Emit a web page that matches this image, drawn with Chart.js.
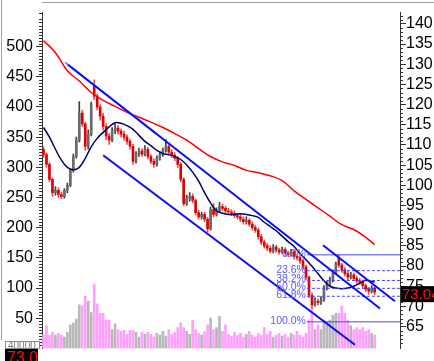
<!DOCTYPE html>
<html>
<head>
<meta charset="utf-8">
<script src="https://cdn.jsdelivr.net/npm/chart.js@4/dist/chart.umd.min.js"></script>
<style>
  html, body { margin: 0; padding: 0; background: #fff; }
  canvas { display: block; }
</style>
</head>
<body>
<canvas id="chart" width="434" height="361"></canvas>
<script>
// daily candles, price
const opens = [
  330, 321, 305, 280, 258, 262, 255, 252, 262, 270,
  295, 318, 345, 390, 372, 335, 355, 435, 418, 400,
  385, 368, 352, 345, 360, 365, 360, 355, 350, 343,
  335, 310, 322, 327, 322, 330, 318, 310, 305, 315,
  322, 328, 335, 325, 320, 315, 305, 280, 240, 248,
  252, 245, 225, 218, 222, 214, 198, 230, 222, 228,
  235, 232, 228, 226, 224, 220, 218, 214, 210, 212,
  206, 200, 196, 185, 176, 170, 166, 161, 168, 163,
  160, 164, 158, 156, 160, 152, 150, 145, 135, 118,
  88, 72, 78, 76, 80, 100, 106, 112, 125, 150,
  138, 130, 124, 118, 122, 116, 112, 110, 104, 98,
  95, 100
];
const closes = [
  321, 305, 280, 258, 262, 255, 252, 262, 270, 295,
  318, 345, 390, 372, 335, 355, 405, 418, 400, 385,
  368, 352, 345, 360, 365, 360, 355, 350, 343, 335,
  310, 322, 327, 322, 330, 318, 310, 305, 315, 322,
  328, 335, 325, 320, 315, 305, 280, 240, 248, 252,
  245, 225, 218, 222, 214, 198, 230, 222, 228, 235,
  232, 228, 226, 224, 220, 218, 214, 210, 212, 206,
  200, 196, 185, 176, 170, 166, 161, 168, 163, 160,
  164, 158, 156, 160, 152, 150, 145, 135, 118, 88,
  72, 78, 76, 80, 100, 106, 112, 125, 140, 138,
  130, 124, 118, 122, 116, 112, 110, 104, 98, 95,
  100, 93
];
const highs = [
  334, 324, 308, 283, 268, 266, 259, 265, 274, 298,
  322, 350, 409, 395, 375, 362, 408, 445, 422, 404,
  390, 372, 356, 366, 372, 369, 364, 360, 354, 347,
  338, 326, 332, 331, 336, 333, 321, 314, 319, 326,
  332, 346, 338, 329, 324, 318, 308, 283, 254, 258,
  256, 248, 229, 226, 226, 217, 234, 240, 233, 242,
  239, 236, 232, 230, 228, 224, 222, 218, 218, 215,
  210, 204, 199, 189, 180, 174, 170, 172, 171, 166,
  168, 167, 161, 164, 162, 156, 153, 148, 138, 120,
  92, 84, 82, 86, 104, 112, 118, 130, 143, 155,
  141, 134, 128, 126, 125, 120, 116, 113, 107, 101,
  104, 103
];
const lows = [
  316, 300, 276, 252, 254, 250, 248, 249, 258, 268,
  292, 315, 342, 368, 328, 330, 352, 412, 395, 378,
  362, 346, 338, 342, 356, 355, 350, 345, 338, 330,
  305, 307, 318, 318, 319, 314, 306, 300, 302, 312,
  318, 325, 321, 316, 311, 300, 276, 236, 237, 244,
  241, 221, 214, 214, 210, 193, 196, 218, 219, 225,
  228, 224, 222, 220, 216, 214, 210, 206, 206, 202,
  196, 192, 181, 172, 166, 162, 158, 158, 159, 156,
  157, 154, 152, 153, 148, 146, 141, 131, 114, 84,
  66, 70, 72, 73, 78, 97, 103, 110, 122, 134,
  126, 120, 114, 115, 112, 108, 106, 100, 94, 90,
  92, 89
];
const volumes = [
  140, 240, 140, 170, 140, 160, 140, 120, 170, 250,
  270, 310, 460, 450, 550, 500, 380, 680, 470, 370,
  370, 300, 300, 200, 260, 200, 180, 190, 150, 190,
  190, 170, 120, 170, 150, 170, 150, 120, 160, 140,
  180, 130, 200, 150, 170, 220, 270, 220, 180, 150,
  300, 200, 160, 140, 180, 250, 320, 200, 220, 340,
  180, 250, 150, 130, 170, 140, 160, 120, 150, 180,
  140, 120, 160, 140, 220, 150, 180, 120, 140, 160,
  130, 150, 120, 160, 140, 180, 140, 120, 160, 300,
  420, 200, 250, 200, 300, 280, 300, 350, 370, 370,
  450, 370, 300, 240, 200, 220, 200, 220, 180, 200,
  160, 140
];

// moving averages as [bar index, value]
const maLong = [
  [0, 510], [4, 490], [8, 460], [12, 443], [16, 424], [20, 411], [24, 401],
  [28, 391], [32, 383], [36, 375], [40, 366], [44, 356], [48, 345], [52, 331],
  [56, 318], [60, 309], [64, 303], [68, 295], [72, 291], [76, 286], [80, 278],
  [84, 261], [88, 247], [92, 233], [96, 219], [100, 205], [104, 197], [108, 184],
  [111, 172]
];
const maShort = [
  [0, 366], [2, 350], [4, 330], [6, 312], [8, 300], [10, 296], [12, 300],
  [14, 315], [16, 334], [18, 348], [20, 358], [22, 367], [24, 374], [26, 373],
  [28, 369], [30, 363], [32, 353], [34, 343], [36, 336], [38, 328], [40, 323],
  [42, 321], [44, 318], [46, 313], [48, 304], [50, 292], [52, 277], [54, 258],
  [56, 241], [58, 228], [60, 224], [62, 222], [64, 222], [66, 223], [68, 222],
  [70, 220], [72, 217], [74, 209], [76, 202], [78, 195], [80, 186], [82, 177],
  [84, 169], [86, 157], [88, 147], [90, 136], [92, 124], [94, 112], [96, 103],
  [98, 100], [100, 99], [102, 100], [104, 103], [106, 108], [108, 113],
  [110, 111], [111, 110]
];

// drawn trend lines: [x1, y1, x2, y2] in bar index / price
const trendLines = [
  [8.2, 470, 112.8, 66],
  [20, 320, 104.4, 6],
  [93.7, 171, 117.8, 78]
];
const trendShadow = [7.2, 474, 38, 355];

const fibTop = 155;
const fibBottom = 44;
const fibLevels = [0, 0.236, 0.382, 0.5, 0.618, 1];
const fibStart = 88.3;

const leftTicks = [50, 100, 150, 200, 250, 300, 350, 400, 450, 500];
const rightTicks = [65, 70, 75, 80, 85, 90, 95, 100, 105, 110, 115, 120, 125, 130, 135, 140];
const lastPrice = 73.04;

const idx = closes.map((_, i) => i);
const down = idx.map(i => closes[i] < opens[i]);

const fibValue = (lv) => fibTop - lv * (fibTop - fibBottom);
const pts = (arr) => arr.map(([x, y]) => ({ x, y }));

const lineDs = (data, color, width, order) => ({
  type: 'line', data, borderColor: color, borderWidth: width,
  pointRadius: 0, tension: 0, order, yAxisID: 'y'
});

const datasets = [];
trendLines.forEach(t => {
  datasets.push(lineDs([{ x: t[0], y: t[1] }, { x: t[2], y: t[3] }], '#0a0aff', 2, 0));
});
datasets.push(lineDs([{ x: trendShadow[0], y: trendShadow[1] }, { x: trendShadow[2], y: trendShadow[3] }], '#8c8cff', 2, 0));

fibLevels.forEach(lv => {
  const v = fibValue(lv);
  const ds = lineDs([{ x: fibStart, y: v }, { x: 119.5, y: v }], '#4646ff', 1, 1);
  if (lv !== 0 && lv !== 1) ds.borderDash = [3, 2];
  datasets.push(ds);
});

datasets.push(Object.assign(lineDs(pts(maLong), '#ff0000', 1.5, 2), { tension: 0.4 }));
datasets.push(Object.assign(lineDs(pts(maShort), '#00006e', 1.5, 2), { tension: 0.4 }));

datasets.push({
  type: 'bar', data: idx.map(i => ({ x: i, y: [opens[i], closes[i]] })),
  backgroundColor: idx.map(i => down[i] ? '#e00000' : '#6a6a6a'),
  barThickness: 2, grouped: false, order: 3, yAxisID: 'y'
});
datasets.push({
  type: 'bar', data: idx.map(i => ({ x: i, y: [lows[i], highs[i]] })),
  backgroundColor: idx.map(i => down[i] ? '#e85050' : '#404040'),
  barThickness: 1, grouped: false, order: 4, yAxisID: 'y'
});
datasets.push({
  type: 'bar', data: idx.map(i => ({ x: i, y: volumes[i] })),
  backgroundColor: idx.map(i => down[i] ? '#ffa0ff' : '#b8b8b8'),
  barThickness: 2, grouped: false, order: 5, yAxisID: 'vol'
});

const extras = {
  id: 'extras',
  afterDraw(chart) {
    const ctx = chart.ctx;
    const area = chart.chartArea;
    const sy = chart.scales.y, sr = chart.scales.yr, sx = chart.scales.x;
    ctx.save();

    // frame
    ctx.strokeStyle = '#a0a0a0';
    ctx.lineWidth = 1;
    ctx.beginPath();
    ctx.moveTo(area.left, 2.5); ctx.lineTo(434, 2.5);
    ctx.moveTo(1.5, 0); ctx.lineTo(1.5, 340);
    ctx.stroke();

    // minor ticks
    ctx.strokeStyle = '#333';
    ctx.beginPath();
    for (let v = 5; v < 556; v += 5) {
      if (v % 50 === 0) continue;
      const y = Math.round(sy.getPixelForValue(v)) + 0.5;
      ctx.moveTo(area.left - 3, y); ctx.lineTo(area.left, y);
    }
    for (let v = 60; v < 143; v += 1) {
      if (v % 5 === 0) continue;
      const y = Math.round(sr.getPixelForValue(v)) + 0.5;
      ctx.moveTo(area.right, y); ctx.lineTo(area.right + 3, y);
    }
    ctx.stroke();

    // fib labels
    ctx.font = '10.5px "Liberation Sans", Arial, sans-serif';
    ctx.fillStyle = '#5a5aff';
    ctx.textAlign = 'right';
    ctx.textBaseline = 'middle';
    const xl = sx.getPixelForValue(fibStart) - 1;
    fibLevels.forEach(lv => {
      const y = sy.getPixelForValue(fibValue(lv));
      ctx.fillText((lv * 100).toFixed(1) + '%', xl, y - 1);
    });

    // last price box on right axis
    const yp = sr.getPixelForValue(lastPrice);
    ctx.fillStyle = '#000';
    ctx.fillRect(area.right + 1, yp - 8, 34, 16);
    ctx.fillStyle = '#ff1010';
    ctx.font = '15px "Liberation Sans", Arial, sans-serif';
    ctx.textAlign = 'left';
    ctx.fillText(lastPrice.toFixed(2), area.right + 2, yp + 1);

    // boxes at bottom left
    ctx.fillStyle = '#fff';
    ctx.fillRect(5, 341, 35, 8);
    ctx.strokeStyle = '#888';
    ctx.strokeRect(5.5, 341.5, 34, 7);
    ctx.save();
    ctx.beginPath(); ctx.rect(6, 342, 33, 6); ctx.clip();
    ctx.fillStyle = '#777';
    ctx.font = '10px "Liberation Sans", Arial, sans-serif';
    ctx.textBaseline = 'top';
    ctx.fillText('40000', 8, 341);
    ctx.restore();
    ctx.fillStyle = '#000';
    ctx.fillRect(5, 349, 33, 12);
    ctx.save();
    ctx.beginPath(); ctx.rect(5, 349, 33, 12); ctx.clip();
    ctx.fillStyle = '#ff1010';
    ctx.font = '16px "Liberation Sans", Arial, sans-serif';
    ctx.textBaseline = 'top';
    ctx.fillText(lastPrice.toFixed(2), 7, 351);
    ctx.restore();

    ctx.restore();
  }
};

new Chart(document.getElementById('chart'), {
  type: 'bar',
  data: { datasets },
  options: {
    responsive: false,
    animation: false,
    layout: { padding: { top: 3, bottom: 3, left: 0, right: 0 } },
    plugins: { legend: { display: false }, tooltip: { enabled: false } },
    scales: {
      x: { type: 'linear', min: -0.5, max: 119.5, offset: false, display: false },
      y: {
        position: 'left', min: 0, max: 556.4,
        afterBuildTicks: s => { s.ticks = leftTicks.map(v => ({ value: v })); },
        afterFit: s => { s.width = 42; },
        grid: { drawOnChartArea: false, tickLength: 6, color: '#333' },
        border: { color: '#333' },
        ticks: { color: '#000', padding: 3, font: { size: 16, family: '"Liberation Sans", Arial, sans-serif' } }
      },
      yr: {
        position: 'right', min: 59.6, max: 142.8,
        afterBuildTicks: s => { s.ticks = rightTicks.map(v => ({ value: v })); },
        afterFit: s => { s.width = 34; },
        grid: { drawOnChartArea: false, tickLength: 6, color: '#333' },
        border: { color: '#333' },
        ticks: { color: '#000', padding: 0, font: { size: 16, family: '"Liberation Sans", Arial, sans-serif' } }
      },
      vol: { display: false, min: 0, max: 3550 }
    }
  },
  plugins: [extras]
});
</script>
</body>
</html>
